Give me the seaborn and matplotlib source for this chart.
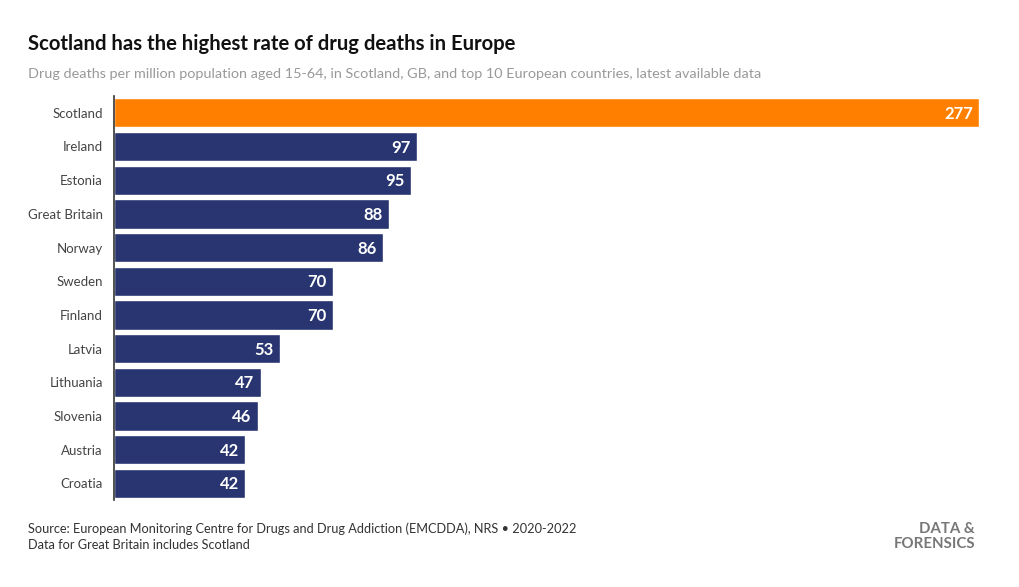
"""
Drug deaths per million population - horizontal bar chart.
"""
import pandas as pd
import matplotlib.pyplot as plt
import seaborn as sns

countries = ['Scotland', 'Ireland', 'Estonia', 'Great Britain', 'Norway', 'Sweden',
             'Finland', 'Latvia', 'Lithuania', 'Slovenia', 'Austria', 'Croatia']
deaths = [277, 97, 95, 88, 86, 70, 70, 53, 47, 46, 42, 42]

ORANGE = '#ff7f00'
NAVY = '#283570'

sns.set_theme(style='white')
plt.rcParams['font.family'] = ['Lato', 'DejaVu Sans']

df = pd.DataFrame({'country': countries, 'deaths': deaths})
palette = {c: (ORANGE if c == 'Scotland' else NAVY) for c in countries}

fig = plt.figure(figsize=(10.2, 5.87), dpi=100)
ax = fig.add_axes([0.1118, 0.148, 0.848, 0.6885])

sns.barplot(data=df, x='deaths', y='country', hue='country', palette=palette,
            order=countries, width=0.87, saturation=1, legend=False, ax=ax)

ax.set_xlim(0, 277)
ax.set_ylim(11.5, -0.5)
ax.set_xlabel('')
ax.set_ylabel('')
ax.set_xticks([])
for side in ['top', 'right', 'bottom']:
    ax.spines[side].set_visible(False)
ax.spines['left'].set_color('#333333')
ax.spines['left'].set_linewidth(1.2)
ax.tick_params(axis='y', length=4, color='#cccccc', labelsize=9.5,
               labelcolor='#444444', pad=4)

# value labels inside the bar ends
for i, v in enumerate(deaths):
    ax.text(v - 2.0, i + 0.03, str(v), ha='right', va='center', color='white',
            fontsize=12, fontweight='bold')

fig.text(0.0275, 0.925, 'Scotland has the highest rate of drug deaths in Europe',
         fontsize=14.6, fontweight='bold', color='#111111', va='center')
fig.text(0.0275, 0.874, 'Drug deaths per million population aged 15-64, in Scotland, GB, '
         'and top 10 European countries, latest available data',
         fontsize=10.35, color='#999999', va='center')
fig.text(0.0275, 0.099, 'Source: European Monitoring Centre for Drugs and Drug Addiction '
         '(EMCDDA), NRS \u2022 2020-2022', fontsize=9.2, color='#333333', va='center')
fig.text(0.0275, 0.072, 'Data for Great Britain includes Scotland',
         fontsize=9.2, color='#333333', va='center')
fig.text(0.956, 0.086, 'DATA &\nFORENSICS', fontsize=10.8, fontweight='bold',
         color='#777777', ha='right', va='center', linespacing=1.15)

fig.savefig('out.png', dpi=100)
plt.close(fig)
